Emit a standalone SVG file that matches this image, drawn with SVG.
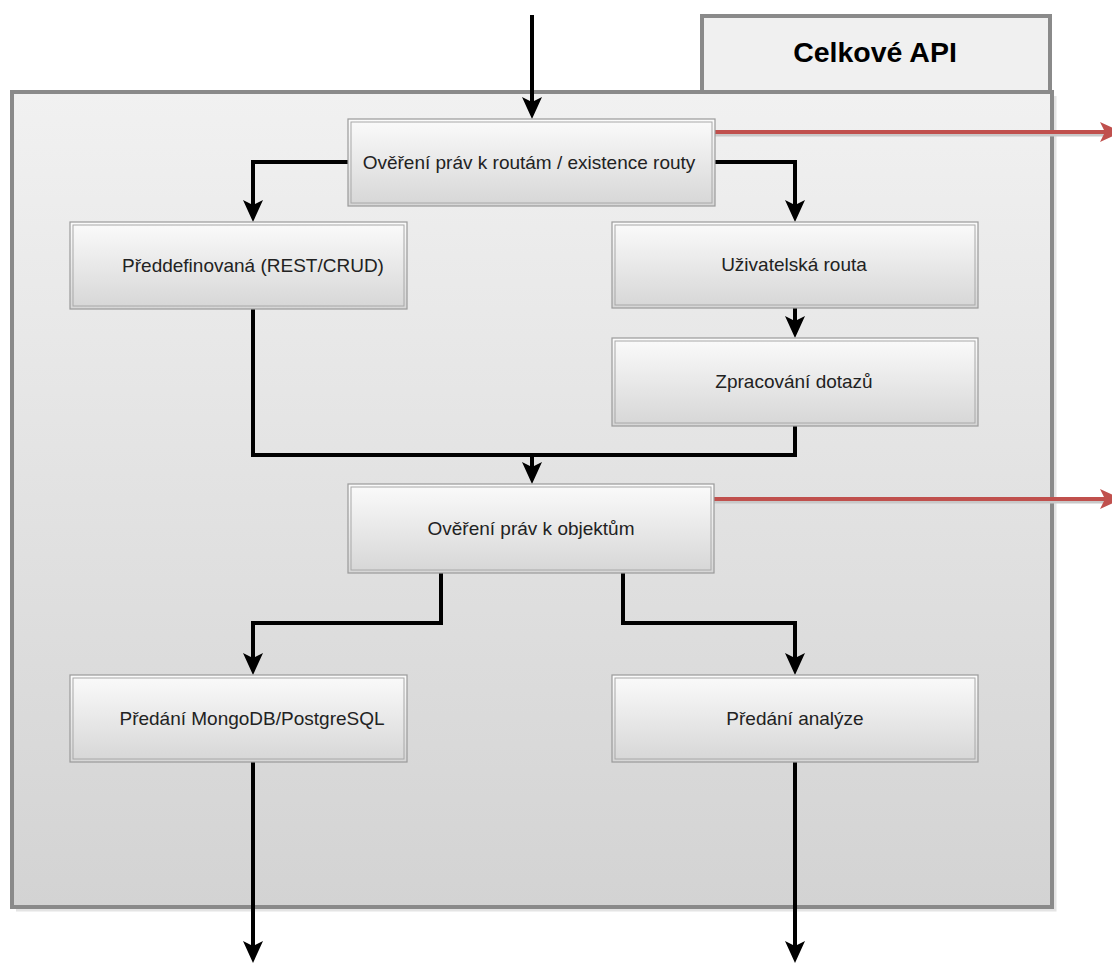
<svg xmlns="http://www.w3.org/2000/svg" width="1112" height="965" viewBox="0 0 1112 965">
  <defs>
    <linearGradient id="gCont" x1="0" y1="0" x2="0" y2="1">
      <stop offset="0" stop-color="#f1f1f1"/>
      <stop offset="1" stop-color="#d3d3d3"/>
    </linearGradient>
    <linearGradient id="gNode" x1="0" y1="0" x2="0" y2="1">
      <stop offset="0" stop-color="#fbfbfb"/>
      <stop offset="1" stop-color="#d6d6d6"/>
    </linearGradient>
    <marker id="ahBlack" viewBox="0 0 22 20" refX="10" refY="10" markerWidth="22" markerHeight="20" markerUnits="userSpaceOnUse" orient="auto">
      <path d="M0,0 L22,10 L0,20 L5,10 Z" fill="#000"/>
    </marker>
    <marker id="ahRed" viewBox="0 0 22 20" refX="10" refY="10" markerWidth="22" markerHeight="22" markerUnits="userSpaceOnUse" orient="auto">
      <path d="M0,0 L22,10 L0,20 L5,10 Z" fill="#c0504d"/>
    </marker>
  </defs>
  <style>
    .cont { fill: url(#gCont); stroke: #8a8a8a; stroke-width: 4; }
    .tab { fill: #f0f0f0; stroke: #8a8a8a; stroke-width: 4; }
    .shadow { fill: none; stroke: #e4e4e4; stroke-width: 3; }
    .nodeOuter { fill: url(#gNode); stroke: #9a9a9a; stroke-width: 1.2; }
    .nodeInner { fill: none; stroke: #a8a8a8; stroke-width: 1; }
    .lbl { font-family: "Liberation Sans", Arial, sans-serif; font-size: 19px; fill: #222; text-anchor: middle; }
    .title { font-family: "Liberation Sans", Arial, sans-serif; font-size: 28.5px; font-weight: bold; fill: #000; text-anchor: middle; }
    .conn { fill: none; stroke: #000; stroke-width: 4; }
    .red { fill: none; stroke: #c0504d; stroke-width: 4; }
    .redShadow { fill: none; stroke: #c8c8c8; stroke-width: 3; }
  </style>

  <g id="container">
    <path class="shadow" d="M16,910 H1055 V96"/>
    <rect class="tab" x="702" y="16" width="348" height="76"/>
    <rect class="cont" x="12" y="92" width="1040" height="815"/>
    <text class="title" x="875" y="62">Celkové API</text>
  </g>

  <g id="connectors">
    <path class="conn" d="M532,15 V107" marker-end="url(#ahBlack)"/>
    <path class="conn" d="M350,162 H253 V210" marker-end="url(#ahBlack)"/>
    <path class="conn" d="M713,162 H795 V210" marker-end="url(#ahBlack)"/>
    <path class="conn" d="M795,308 V326" marker-end="url(#ahBlack)"/>
    <path class="conn" d="M253,309 V455 H795 V426"/>
    <path class="conn" d="M532,455 V472" marker-end="url(#ahBlack)"/>
    <path class="conn" d="M441,573 V623 H253 V663" marker-end="url(#ahBlack)"/>
    <path class="conn" d="M623,573 V623 H795 V663" marker-end="url(#ahBlack)"/>
    <path class="conn" d="M253,762 V951" marker-end="url(#ahBlack)"/>
    <path class="conn" d="M795,762 V951" marker-end="url(#ahBlack)"/>
    <path class="redShadow" d="M715,135 H1105"/>
    <path class="red" d="M715,132 H1110" marker-end="url(#ahRed)"/>
    <path class="redShadow" d="M714,502 H1105"/>
    <path class="red" d="M714,499 H1110" marker-end="url(#ahRed)"/>
  </g>

  <g id="node-routy">
    <rect class="nodeOuter" x="348" y="119" width="367" height="87"/>
    <rect class="nodeInner" x="351" y="122" width="361" height="81"/>
    <text class="lbl" x="529" y="168.5">Ověření práv k routám / existence routy</text>
  </g>
  <g id="node-preddefinovana">
    <rect class="nodeOuter" x="70" y="222" width="337" height="87"/>
    <rect class="nodeInner" x="73" y="225" width="331" height="81"/>
    <text class="lbl" x="253" y="271.5">Předdefinovaná (REST/CRUD)</text>
  </g>
  <g id="node-uzivatelska">
    <rect class="nodeOuter" x="612" y="222" width="366" height="86"/>
    <rect class="nodeInner" x="615" y="225" width="360" height="80"/>
    <text class="lbl" x="794" y="271">Uživatelská routa</text>
  </g>
  <g id="node-zpracovani">
    <rect class="nodeOuter" x="612" y="338" width="366" height="88"/>
    <rect class="nodeInner" x="615" y="341" width="360" height="82"/>
    <text class="lbl" x="794" y="388">Zpracování dotazů</text>
  </g>
  <g id="node-objekty">
    <rect class="nodeOuter" x="348" y="484" width="366" height="89"/>
    <rect class="nodeInner" x="351" y="487" width="360" height="83"/>
    <text class="lbl" x="531" y="534.5">Ověření práv k objektům</text>
  </g>
  <g id="node-mongo">
    <rect class="nodeOuter" x="70" y="675" width="337" height="87"/>
    <rect class="nodeInner" x="73" y="678" width="331" height="81"/>
    <text class="lbl" x="252" y="724.5">Předání MongoDB/PostgreSQL</text>
  </g>
  <g id="node-analyza">
    <rect class="nodeOuter" x="612" y="675" width="366" height="87"/>
    <rect class="nodeInner" x="615" y="678" width="360" height="81"/>
    <text class="lbl" x="795" y="724.5">Předání analýze</text>
  </g>
</svg>
